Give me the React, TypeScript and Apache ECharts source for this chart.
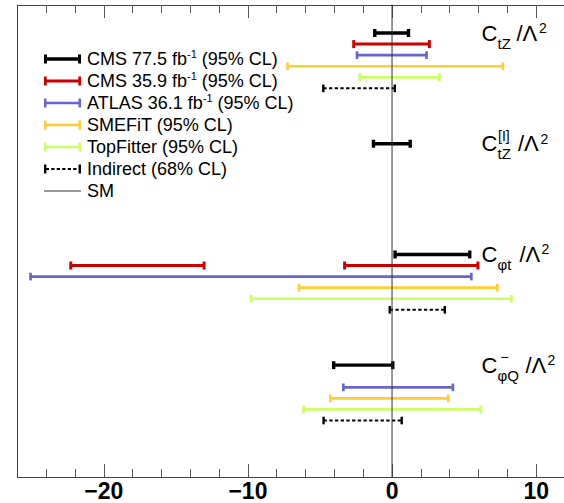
import React, { useEffect, useRef } from 'react';
import * as echarts from 'echarts';

// ---------- data ----------
const xMin = -26;
const xMax = 12;
const majorTicks = [-20, -10, 0, 10];
const minorTicks = [-24, -22, -18, -16, -14, -12, -8, -6, -4, -2, 2, 4, 6, 8, 12];
const rowMin = -2.53;
const rowMax = 40.1;

// coefficient groups (row of first entry of each group)
const coefficients = ['CtZ', 'CtZI', 'Cphit', 'CphiQ'];
const coefficientRows = [0, 10, 20, 30];

// each interval: [low, high, row]
const cms775 = [[-1.2, 1.14, 0], [-1.29, 1.26, 10], [0.21, 5.39, 20], [-4.05, 0.05, 30]];
const cms359 = [[-2.66, 2.59, 1], [-22.29, -13.04, 21], [-3.29, 5.96, 21]];
const atlas361 = [[-2.43, 2.39, 2], [-25.08, 5.5, 22], [-3.38, 4.22, 32]];
const smefit = [[-7.25, 7.69, 3], [-6.46, 7.3, 23], [-4.28, 3.9, 33]];
const topfitter = [[-2.24, 3.29, 4], [-9.78, 8.28, 24], [-6.14, 6.16, 34]];
const indirect = [[-4.77, 0.19, 5], [-0.16, 3.66, 25], [-4.75, 0.67, 35]];
const smValue = 0;

const seriesNames = [
  'CMS 77.5 fb-1 (95% CL)',
  'CMS 35.9 fb-1 (95% CL)',
  'ATLAS 36.1 fb-1 (95% CL)',
  'SMEFiT (95% CL)',
  'TopFitter (95% CL)',
  'Indirect (68% CL)',
  'SM',
];

// ---------- styles ----------
const FONT = '"Liberation Sans", Arial, Helvetica, sans-serif';

const seriesStyles = [
  { color: '#000000', width: 3.4, cap: 4, dash: null as number[] | null },
  { color: '#cc0000', width: 3, cap: 4, dash: null },
  { color: '#6666cc', width: 2.7, cap: 3.8, dash: null },
  { color: '#ffcc33', width: 2.7, cap: 3.8, dash: null },
  { color: '#ccff66', width: 2.7, cap: 3.8, dash: null },
  { color: '#000000', width: 2, cap: 3.8, dash: [3.3, 2.4] },
];

const legendIcons = [
  'path://M0,0h3v9h-3zM3,2.8h31v3.4h-31zM34,0h3v9h-3z',
  'path://M0,0h2.7v9h-2.7zM2.7,3h31.6v3h-31.6zM34.3,0h2.7v9h-2.7z',
  'path://M0,0h2.5v9h-2.5zM2.5,3.2h32v2.6h-32zM34.5,0h2.5v9h-2.5z',
  'path://M0,0h2.5v9h-2.5zM2.5,3.2h32v2.6h-32zM34.5,0h2.5v9h-2.5z',
  'path://M0,0h2.5v9h-2.5zM2.5,3.2h32v2.6h-32zM34.5,0h2.5v9h-2.5z',
  'path://M0,0h2.4v9h-2.4zM2.4,3.6h2.6v1.9h-2.6zM7.2,3.6h3.3v1.9h-3.3zM12.7,3.6h3.3v1.9h-3.3zM18.2,3.6h3.3v1.9h-3.3zM23.7,3.6h3.3v1.9h-3.3zM29.2,3.6h3.3v1.9h-3.3zM34.6,0h2.4v9h-2.4z',
  'path://M0,0h0.01v0.01h-0.01zM36.99,8.99h0.01v0.01h-0.01zM0,4.1h37v0.9h-37z',
];

const legendRich: Record<string, string> = {
  'CMS 77.5 fb-1 (95% CL)': '{a|CMS 77.5 fb}{s|-1}{a| (95% CL)}',
  'CMS 35.9 fb-1 (95% CL)': '{a|CMS 35.9 fb}{s|-1}{a| (95% CL)}',
  'ATLAS 36.1 fb-1 (95% CL)': '{a|ATLAS 36.1 fb}{s|-1}{a| (95% CL)}',
  'SMEFiT (95% CL)': '{a|SMEFiT (95% CL)}',
  'TopFitter (95% CL)': '{a|TopFitter (95% CL)}',
  'Indirect (68% CL)': '{a|Indirect (68% CL)}',
  SM: '{a|SM}',
};

// label pieces for each coefficient (x positions in px, layout only)
const labelLayouts = [
  { c: 481.5, sub: 'tZ', subX: 497.5, sup: '', supX: 0, slash: 516.5, two: 539 },
  { c: 481.5, sub: 'tZ', subX: 497.5, sup: '[I]', supX: 498, slash: 518, two: 540.5 },
  { c: 481.5, sub: 'φt', subX: 497.5, sup: '', supX: 0, slash: 519.5, two: 541.5 },
  { c: 481.5, sub: 'φQ', subX: 497.5, sup: '−', supX: 500.5, slash: 525.5, two: 547.5 },
];

const fmtTick = (v: number) => (v < 0 ? '−' + Math.abs(v) : String(v));

function makeRenderItem(idx: number) {
  const st = seriesStyles[idx];
  return (params: any, api: any) => {
    const lo = api.coord([api.value(0), api.value(2)]);
    const hi = api.coord([api.value(1), api.value(2)]);
    const barStyle: any = { stroke: st.color, lineWidth: st.width, fill: null };
    if (st.dash) barStyle.lineDash = st.dash;
    const capStyle = { stroke: st.color, lineWidth: st.dash ? 2.4 : st.width, fill: null };
    return {
      type: 'group',
      children: [
        { type: 'line', shape: { x1: lo[0], y1: lo[1], x2: hi[0], y2: hi[1] }, style: barStyle },
        { type: 'line', shape: { x1: lo[0], y1: lo[1] - st.cap, x2: lo[0], y2: lo[1] + st.cap }, style: capStyle },
        { type: 'line', shape: { x1: hi[0], y1: hi[1] - st.cap, x2: hi[0], y2: hi[1] + st.cap }, style: capStyle },
      ],
    };
  };
}

export default function App() {
  const ref = useRef<HTMLDivElement>(null);

  useEffect(() => {
    if (!ref.current) return;
    const chart = echarts.init(ref.current, null, { renderer: 'svg' });
    const datasets = [cms775, cms359, atlas361, smefit, topfitter, indirect];

    const xAxisBase = {
      type: 'value' as const,
      min: xMin,
      max: xMax,
      splitLine: { show: false },
    };

    const option: any = {
      animation: false,
      backgroundColor: '#ffffff',
      grid: { left: 17.3, right: -1, top: 5, bottom: 26, containLabel: false, outerBoundsMode: 'none' },
      legend: {
        orient: 'vertical',
        left: 39,
        top: 43,
        itemWidth: 37,
        itemHeight: 9,
        itemGap: 0,
        selectedMode: false,
        data: seriesNames.map((n, i) => ({ name: n, icon: legendIcons[i] })),
        formatter: (name: string) => legendRich[name] || name,
        textStyle: {
          fontFamily: FONT,
          fontSize: 18,
          color: '#000',
          lineHeight: 22,
          padding: [0, 0, 0, 1],
          rich: {
            a: { fontFamily: FONT, fontSize: 18, lineHeight: 22, color: '#000' },
            s: { fontFamily: FONT, fontSize: 11, lineHeight: 18, verticalAlign: 'top', color: '#000' },
          },
        },
      },
      xAxis: [
        {
          ...xAxisBase,
          position: 'bottom',
          axisLine: { show: true, onZero: false, lineStyle: { color: '#444', width: 1 } },
          axisTick: { show: true, inside: true, length: 13, customValues: majorTicks, lineStyle: { color: '#555', width: 1 } },
          axisLabel: {
            show: true,
            customValues: majorTicks,
            formatter: fmtTick,
            fontFamily: FONT,
            fontSize: 23,
            fontWeight: 'bold',
            color: '#000',
            margin: 2,
          },
        },
        {
          ...xAxisBase,
          position: 'bottom',
          axisLine: { show: false, onZero: false },
          axisTick: { show: true, inside: true, length: 8, customValues: minorTicks, lineStyle: { color: '#555', width: 1 } },
          axisLabel: { show: false },
        },
        {
          ...xAxisBase,
          position: 'top',
          axisLine: { show: true, onZero: false, lineStyle: { color: '#444', width: 1 } },
          axisTick: { show: true, inside: true, length: 13, customValues: majorTicks, lineStyle: { color: '#555', width: 1 } },
          axisLabel: { show: false },
        },
        {
          ...xAxisBase,
          position: 'top',
          axisLine: { show: false, onZero: false },
          axisTick: { show: true, inside: true, length: 8, customValues: minorTicks, lineStyle: { color: '#555', width: 1 } },
          axisLabel: { show: false },
        },
      ],
      yAxis: [
        {
          type: 'value',
          inverse: true,
          min: rowMin,
          max: rowMax,
          axisLine: { show: true, onZero: false, lineStyle: { color: '#444', width: 1 } },
          axisTick: { show: false },
          axisLabel: { show: false },
          splitLine: { show: false },
        },
      ],
      series: [
        ...datasets.map((d, i) => ({
          name: seriesNames[i],
          type: 'custom',
          xAxisIndex: 0,
          yAxisIndex: 0,
          renderItem: makeRenderItem(i),
          itemStyle: { color: seriesStyles[i].color },
          encode: { x: [0, 1], y: 2 },
          data: d,
          clip: true,
        })),
        {
          name: 'SM',
          type: 'line',
          xAxisIndex: 0,
          yAxisIndex: 0,
          symbol: 'none',
          data: [[smValue, rowMin - 5], [smValue, rowMax + 5]],
          lineStyle: { color: '#333', width: 1 },
          itemStyle: { color: '#333' },
          clip: true,
          z: 5,
        },
      ],
    };

    chart.setOption(option);

    // coefficient labels, placed at the rows of each group through the y scale
    const graphics: any[] = [];
    coefficients.forEach((_, i) => {
      const y = chart.convertToPixel({ yAxisIndex: 0 }, coefficientRows[i]) as number;
      const L = labelLayouts[i];
      const txt = (text: string, x: number, yy: number, size: number) => ({
        type: 'text',
        x,
        y: yy,
        silent: true,
        style: { text, fontFamily: FONT, fontSize: size, fill: '#000', verticalAlign: 'middle', align: 'left' },
      });
      const children = [
        txt('C', L.c, y, 22),
        txt(L.sub, L.subX, y + 10, 15),
        txt('/Λ', L.slash, y, 22),
        txt('2', L.two, y - 5, 14),
      ];
      if (L.sup) children.push(txt(L.sup, L.supX, y - 8, 14));
      graphics.push({ type: 'group', children });
    });
    chart.setOption({ graphic: graphics });

    return () => chart.dispose();
  }, []);

  return (
    <div
      ref={ref}
      style={{ position: 'absolute', left: 0, top: 0, width: 564, height: 503, background: '#fff' }}
    />
  );
}
